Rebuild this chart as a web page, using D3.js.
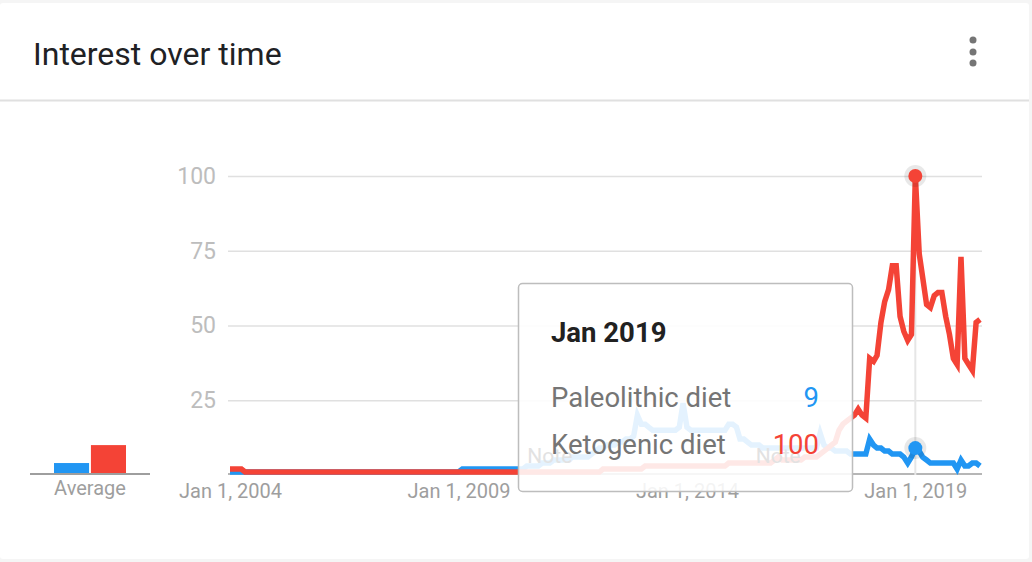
<!DOCTYPE html>
<html lang="en">
<head>
    <meta charset="UTF-8">
    <title>Interest over time</title>
    <script src="https://d3js.org/d3.v7.min.js"></script>
    <style>
        body { margin: 0; background: #f5f5f5; }
        svg { display: block; font-family: Roboto, "Noto Sans", sans-serif; }
    </style>
</head>
<body>

<script>

    //________________________________________________
    // Data
    //________________________________________________
    var termNames = ['Paleolithic diet', 'Ketogenic diet'];
    var termColors = ['#2196f3', '#f44336'];

    var firstMonth = new Date(2004, 0, 1);
    var lastMonth = new Date(2020, 5, 1);

    // monthly interest, one row per year (2004 .. 2020)
    var paleoValues = [
        1, 1, 1, 1, 1, 1, 1, 1, 1, 1, 1, 1,
        1, 1, 1, 1, 1, 1, 1, 1, 1, 1, 1, 1,
        1, 1, 1, 1, 1, 1, 1, 1, 1, 1, 1, 1,
        1, 1, 1, 1, 1, 1, 1, 1, 1, 1, 1, 1,
        1, 1, 1, 1, 1, 1, 1, 1, 1, 1, 1, 1,
        1, 2, 2, 2, 2, 2, 2, 2, 2, 2, 2, 2,
        2, 2, 2, 2, 2, 2, 3, 3, 3, 3, 4, 4,
        4, 5, 5, 5, 5, 5, 6, 6, 6, 6, 6, 7,
        8, 9, 9, 10, 10, 10, 11, 11, 12, 12, 13, 20,
        17, 17, 16, 15, 15, 15, 15, 15, 15, 15, 16, 24,
        16, 15, 15, 15, 15, 15, 15, 15, 15, 15, 15, 17,
        17, 16, 12, 12, 11, 10, 10, 10, 9, 9, 9, 9,
        9, 9, 9, 9, 9, 9, 9, 9, 9, 9, 9, 14,
        10, 9, 9, 8, 8, 8, 8, 7, 7, 7, 7, 7,
        12, 10, 9, 9, 8, 8, 7, 7, 7, 6, 4, 6,
        9, 8, 6, 5, 4, 4, 4, 4, 4, 4, 4, 2,
        5, 3, 3, 4, 4, 3
    ];

    var ketoValues = [
        2, 2, 2, 2, 1, 1, 1, 1, 1, 1, 1, 1,
        1, 1, 1, 1, 1, 1, 1, 1, 1, 1, 1, 1,
        1, 1, 1, 1, 1, 1, 1, 1, 1, 1, 1, 1,
        1, 1, 1, 1, 1, 1, 1, 1, 1, 1, 1, 1,
        1, 1, 1, 1, 1, 1, 1, 1, 1, 1, 1, 1,
        1, 1, 1, 1, 1, 1, 1, 1, 1, 1, 1, 1,
        1, 1, 1, 1, 1, 1, 1, 1, 1, 1, 1, 1,
        1, 1, 1, 1, 1, 1, 1, 1, 1, 1, 1, 1,
        1, 1, 2, 2, 2, 2, 2, 2, 2, 2, 2, 2,
        2, 3, 3, 3, 3, 3, 3, 3, 3, 3, 3, 3,
        3, 3, 3, 3, 3, 3, 3, 3, 3, 3, 3, 4,
        4, 4, 4, 4, 4, 4, 4, 4, 4, 4, 4, 5,
        6, 5, 5, 5, 5, 5, 5, 6, 6, 6, 6, 7,
        8, 9, 10, 11, 15, 17, 18, 19, 20, 22, 20, 19,
        39, 38, 40, 51, 58, 62, 70, 70, 53, 48, 45, 47,
        100, 74, 66, 57, 56, 60, 61, 61, 53, 47, 39, 37,
        73, 39, 37, 35, 51, 52
    ];

    var averageValues = [4, 10];

    var yTickValues = [25, 50, 75, 100];
    var xTickDates = [new Date(2004, 0, 1), new Date(2009, 0, 1), new Date(2014, 0, 1), new Date(2019, 0, 1)];
    var noteMonths = [new Date(2011, 0, 1), new Date(2016, 0, 1)];
    var hoverMonth = new Date(2019, 0, 1);

    //________________________________________________
    // DOM preparation
    //________________________________________________
    var width = 1032;
    var height = 562;
    var plot = {left: 228, right: 982, top: 176, bottom: 475};

    var svg = d3.select('body').append('svg').attr('width', width).attr('height', height);

    // Card
    svg.append('rect')
        .attr('x', 0).attr('y', 3).attr('width', 1029).attr('height', 556).attr('rx', 3)
        .style('fill', '#fff');

    svg.append('text')
        .attr('x', 33).attr('y', 65)
        .style('font-size', '32px').style('fill', '#202124')
        .text('Interest over time');

    svg.append('g').selectAll('circle')
        .data([40, 52, 63])
        .enter().append('circle')
        .attr('cx', 973).attr('cy', function (d) { return d; }).attr('r', 3.5)
        .style('fill', '#757575');

    svg.append('line')
        .attr('x1', 0).attr('x2', 1029).attr('y1', 100.5).attr('y2', 100.5)
        .style('stroke', '#e0e0e0').style('stroke-width', 2);

    //________________________________________________
    // Scales
    //________________________________________________
    var months = d3.timeMonth.range(firstMonth, d3.timeMonth.offset(lastMonth, 1));

    var x = d3.scaleTime().domain([firstMonth, lastMonth]).range([230, 980]);
    var y = d3.scaleLinear().domain([0, 100]).range([plot.bottom, plot.top]);

    //________________________________________________
    // Axes
    //________________________________________________
    var yAxis = svg.append('g')
        .attr('transform', 'translate(' + plot.left + ',0)')
        .call(d3.axisLeft(y).tickValues(yTickValues).tickSize(-(plot.right - plot.left)).tickPadding(12));
    yAxis.select('.domain').remove();
    yAxis.selectAll('line').style('stroke', '#e0e0e0').style('stroke-width', 1.5);
    yAxis.selectAll('text').style('font-size', '23px').style('fill', '#bdbdbd').style('font-family', 'Roboto');

    svg.append('line')
        .attr('x1', plot.left).attr('x2', plot.right).attr('y1', y(0) - 1).attr('y2', y(0) - 1)
        .style('stroke', '#9e9e9e').style('stroke-width', 1.5);

    var xAxis = svg.append('g')
        .attr('transform', 'translate(0,' + plot.bottom + ')')
        .call(d3.axisBottom(x).tickValues(xTickDates).tickFormat(d3.timeFormat('%b %-d, %Y')).tickSize(0).tickPadding(9));
    xAxis.select('.domain').remove();
    xAxis.selectAll('text').style('font-size', '20px').style('fill', '#9e9e9e').style('font-family', 'Roboto');

    //________________________________________________
    // Average bars
    //________________________________________________
    var xAvg = d3.scaleBand().domain(termNames).range([54, 126]).paddingInner(0.05);

    svg.append('g').selectAll('rect')
        .data(averageValues)
        .enter().append('rect')
        .attr('x', function (d, i) { return xAvg(termNames[i]); })
        .attr('width', xAvg.bandwidth())
        .attr('y', function (d) { return y(d); })
        .attr('height', function (d) { return y(0) - 2 - y(d); })
        .style('fill', function (d, i) { return termColors[i]; });

    svg.append('line')
        .attr('x1', 30).attr('x2', 150).attr('y1', y(0) - 1).attr('y2', y(0) - 1)
        .style('stroke', '#9e9e9e').style('stroke-width', 2);

    svg.append('text')
        .attr('x', 90).attr('y', 495)
        .style('font-size', '20px').style('fill', '#9e9e9e').style('text-anchor', 'middle')
        .text('Average');

    //________________________________________________
    // Lines
    //________________________________________________
    var hoverIndex = months.findIndex(function (m) { return +m === +hoverMonth; });

    svg.append('line')
        .attr('x1', x(hoverMonth)).attr('x2', x(hoverMonth))
        .attr('y1', y(100)).attr('y2', y(0))
        .style('stroke', '#e6e6e6').style('stroke-width', 2);

    var line = d3.line()
        .x(function (d, i) { return x(months[i]); })
        .y(function (d) { return y(d); });

    svg.append('g').selectAll('path')
        .data([paleoValues, ketoValues])
        .enter().append('path')
        .attr('d', line)
        .style('fill', 'none')
        .style('stroke', function (d, i) { return termColors[i]; })
        .style('stroke-width', 5.5)
        .style('stroke-linejoin', 'miter');

    // Hover markers
    var markers = svg.append('g').selectAll('g')
        .data([paleoValues[hoverIndex], ketoValues[hoverIndex]])
        .enter().append('g')
        .attr('transform', function (d) { return 'translate(' + x(hoverMonth) + ',' + y(d) + ')'; });
    markers.append('circle').attr('r', 11).style('fill', '#000').style('opacity', 0.09);
    markers.append('circle').attr('r', 7).style('fill', function (d, i) { return termColors[i]; });

    //________________________________________________
    // Tooltip
    //________________________________________________
    var tip = svg.append('g');
    tip.append('rect')
        .attr('x', 518.5).attr('y', 283.5).attr('width', 334).attr('height', 208).attr('rx', 4)
        .style('fill', '#fff').style('fill-opacity', 0.88)
        .style('stroke', '#bdbdbd').style('stroke-width', 1.5);

    tip.selectAll('text.note')
        .data(noteMonths)
        .enter().append('text')
        .attr('class', 'note')
        .attr('x', function (d) { return x(d); }).attr('y', 463)
        .style('font-size', '21px').style('fill', '#e2e2e2').style('text-anchor', 'middle')
        .text('Note');

    tip.append('text')
        .attr('x', 551).attr('y', 342)
        .style('font-size', '27.5px').style('font-weight', 'bold').style('fill', '#212121')
        .text(d3.timeFormat('%b %Y')(hoverMonth));

    var rows = tip.selectAll('g.row')
        .data(termNames)
        .enter().append('g')
        .attr('class', 'row')
        .attr('transform', function (d, i) { return 'translate(0,' + (407 + i * 47) + ')'; });
    rows.append('text')
        .attr('x', 551)
        .style('font-size', '27.5px').style('fill', '#757575')
        .text(function (d) { return d; });
    rows.append('text')
        .attr('x', 819)
        .style('font-size', '27.5px').style('text-anchor', 'end')
        .style('fill', function (d, i) { return termColors[i]; })
        .text(function (d, i) { return [paleoValues, ketoValues][i][hoverIndex]; });

</script>

</body>
</html>
